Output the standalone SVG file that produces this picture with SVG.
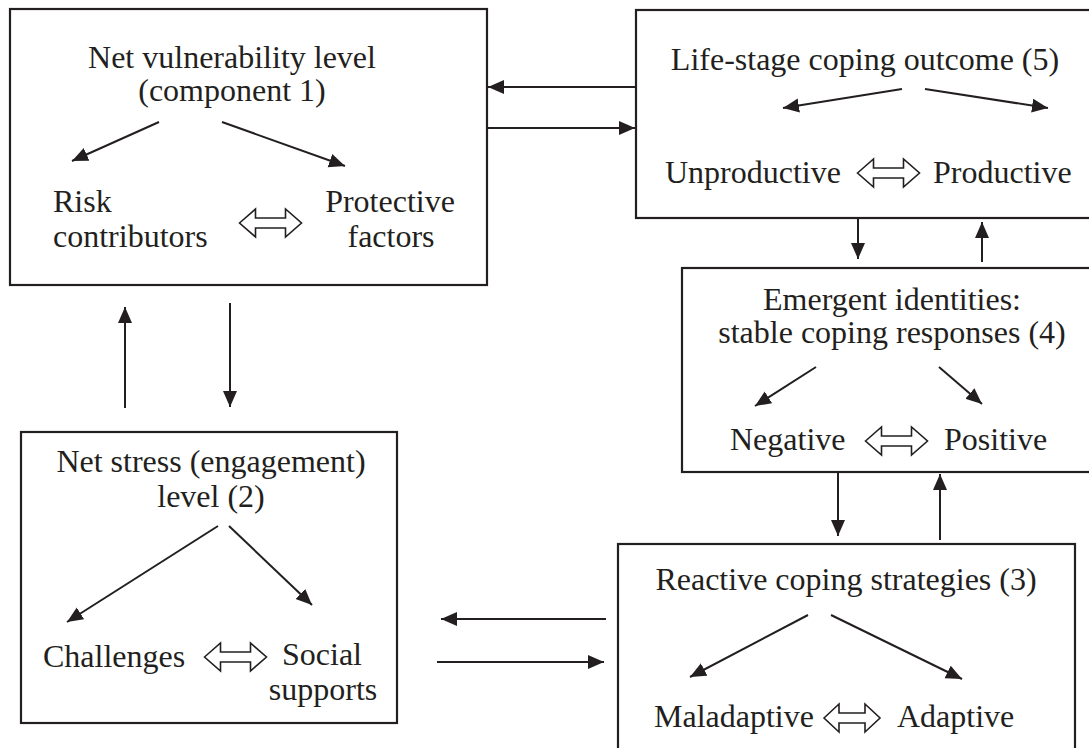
<svg xmlns="http://www.w3.org/2000/svg" width="1089" height="748" viewBox="0 0 1089 748">
<style>
.box{fill:#fff;stroke:#231f20;stroke-width:2.2}
.t{font-family:"Liberation Serif","Times New Roman",serif;font-size:32px;fill:#231f20}
.m{text-anchor:middle}
.c{stroke:#231f20;stroke-width:2;fill:none;marker-end:url(#ah)}
.h{fill:#fff;stroke:#231f20;stroke-width:1.6;stroke-linejoin:miter}
</style>
<defs>
<marker id="ah" markerUnits="userSpaceOnUse" markerWidth="17" markerHeight="15" refX="16" refY="7.5" orient="auto" viewBox="0 0 17 15">
<path d="M0,0.5 L16,7.5 L0,14.5 z" fill="#231f20"/>
</marker>
<path id="dbl" d="M-31,0 L-15,-14 L-15,-5 L15,-5 L15,-14 L31,0 L15,14 L15,5 L-15,5 L-15,14 Z"/>
<path id="dbls" d="M-28,0 L-13,-14 L-13,-5 L13,-5 L13,-14 L28,0 L13,14 L13,5 L-13,5 L-13,14 Z"/>
</defs>
<rect width="1089" height="748" fill="#fff"/>

<g id="node1">
<rect class="box" x="10" y="9" width="477" height="276"/>
<text class="t m" x="232" y="68">Net vulnerability level</text>
<text class="t m" x="232" y="101">(component 1)</text>
<line class="c" x1="159" y1="122" x2="72" y2="161"/>
<line class="c" x1="222" y1="122" x2="345" y2="166"/>
<text class="t" x="53" y="212">Risk</text>
<text class="t" x="53" y="247">contributors</text>
<text class="t m" x="390" y="212">Protective</text>
<text class="t m" x="391" y="247">factors</text>
<use href="#dbl" class="h" transform="translate(270.5,223)"/>
</g>

<g id="node5">
<rect class="box" x="636" y="10" width="470" height="208"/>
<text class="t m" x="865" y="70">Life-stage coping outcome (5)</text>
<line class="c" x1="902" y1="89" x2="783" y2="108"/>
<line class="c" x1="925" y1="89" x2="1048" y2="108"/>
<text class="t" x="665" y="183">Unproductive</text>
<use href="#dbl" class="h" transform="translate(888.5,173)"/>
<text class="t" x="933" y="183">Productive</text>
</g>

<g id="node4">
<rect class="box" x="682" y="268" width="420" height="204"/>
<text class="t m" x="892" y="310">Emergent identities:</text>
<text class="t m" x="892" y="343">stable coping responses (4)</text>
<line class="c" x1="816" y1="367" x2="755" y2="406"/>
<line class="c" x1="939" y1="367" x2="982" y2="404"/>
<text class="t" x="730" y="450">Negative</text>
<use href="#dbl" class="h" transform="translate(896.5,441)"/>
<text class="t" x="944" y="450">Positive</text>
</g>

<g id="node2">
<rect class="box" x="21" y="432" width="376" height="291"/>
<text class="t m" x="211" y="472">Net stress (engagement)</text>
<text class="t m" x="211" y="507">level (2)</text>
<line class="c" x1="218" y1="526" x2="67" y2="622"/>
<line class="c" x1="229" y1="526" x2="312" y2="605"/>
<text class="t" x="43" y="667">Challenges</text>
<use href="#dbl" class="h" transform="translate(235.5,657)"/>
<text class="t m" x="322" y="665">Social</text>
<text class="t m" x="323" y="700">supports</text>
</g>

<g id="node3">
<rect class="box" x="618" y="544" width="457" height="230"/>
<text class="t m" x="846" y="590">Reactive coping strategies (3)</text>
<line class="c" x1="808" y1="615" x2="690" y2="677"/>
<line class="c" x1="831" y1="615" x2="962" y2="679"/>
<text class="t" x="654" y="727">Maladaptive</text>
<use href="#dbls" class="h" transform="translate(852,718)"/>
<text class="t" x="897" y="727">Adaptive</text>
</g>

<g id="connectors">
<line class="c" x1="636" y1="87" x2="488" y2="87"/>
<line class="c" x1="487" y1="128" x2="635" y2="128"/>
<line class="c" x1="230" y1="303" x2="230" y2="407"/>
<line class="c" x1="125" y1="408" x2="125" y2="307"/>
<line class="c" x1="606" y1="619" x2="441" y2="619"/>
<line class="c" x1="437" y1="662" x2="604" y2="662"/>
<line class="c" x1="858" y1="218" x2="858" y2="259"/>
<line class="c" x1="982" y1="262" x2="982" y2="222"/>
<line class="c" x1="838" y1="472" x2="838" y2="536"/>
<line class="c" x1="940" y1="540" x2="940" y2="474"/>
</g>
</svg>
